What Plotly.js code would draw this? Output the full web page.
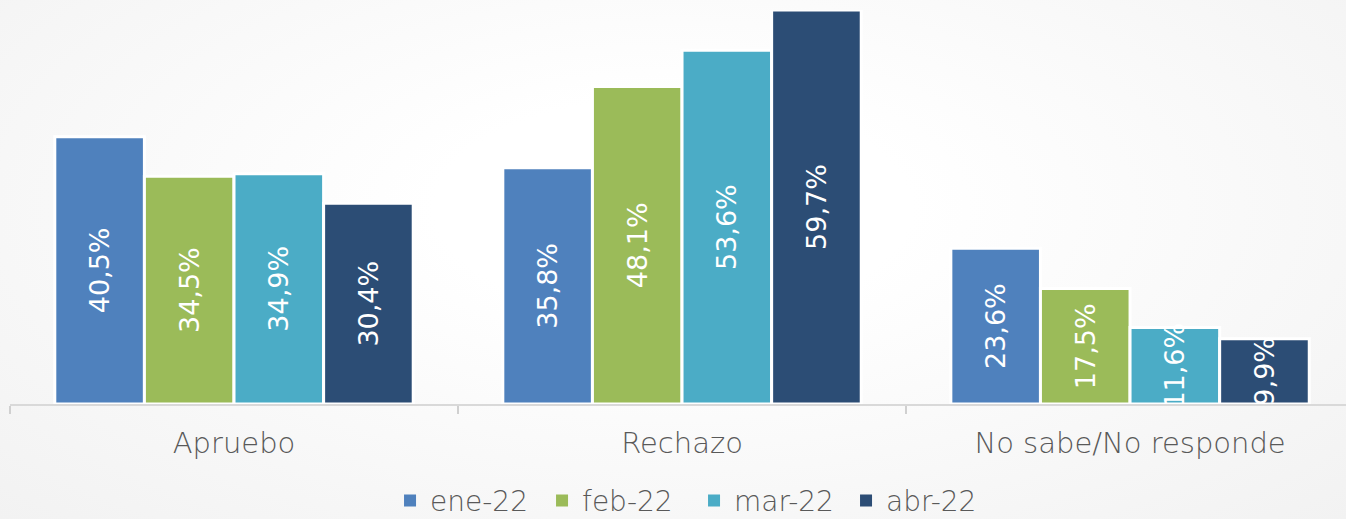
<!DOCTYPE html>
<html>
<head>
<meta charset="utf-8">
<script src="https://cdn.plot.ly/plotly-3.0.1.min.js"></script>
<style>
html,body{margin:0;padding:0;}
body{width:1346px;height:519px;background:radial-gradient(ellipse at 50% 40%, #ffffff 25%, #f2f2f2 100%);}
#chart{width:1346px;height:519px;}
.legend .legendpoints path{stroke-width:0 !important;}
</style>
</head>
<body>
<div id="chart"></div>
<script>
const categories = ["Apruebo", "Rechazo", "No sabe/No responde"];
const seriesNames = ["ene-22", "feb-22", "mar-22", "abr-22"];
const ene22 = [40.5, 35.8, 23.6];
const feb22 = [34.5, 48.1, 17.5];
const mar22 = [34.9, 53.6, 11.6];
const abr22 = [30.4, 59.7, 9.9];
const colors = ["#4F81BD", "#9BBB59", "#4BACC6", "#2C4D75"];

const values = [ene22, feb22, mar22, abr22];
const traces = values.map((v, i) => ({
  type: "bar",
  name: seriesNames[i],
  x: categories,
  y: v,
  marker: {color: colors[i], line: {color: "#ffffff", width: 3}},
  texttemplate: "%{y:.1f}%",
  textposition: "inside",
  insidetextanchor: "middle",
  constraintext: "none",
  textangle: -90,
  textfont: {family: "DejaVu Sans, sans-serif", size: 27, color: "#ffffff"},
  hoverinfo: "none"
}));

const layout = {
  width: 1346,
  height: 519,
  paper_bgcolor: "rgba(0,0,0,0)",
  plot_bgcolor: "rgba(0,0,0,0)",
  margin: {l: 10, r: 0, t: 10, b: 115, autoexpand: false},
  separators: ",.",
  barmode: "group",
  bargap: 0.2,
  bargroupgap: 0,
  showlegend: true,
  xaxis: {
    type: "category",
    range: [-0.5, 2.482],
    automargin: false,
    tickson: "boundaries",
    ticks: "outside",
    ticklen: 8,
    tickcolor: "#d0d0d0",
    tickwidth: 2,
    showline: true,
    linecolor: "#d9d9d9",
    linewidth: 2,
    showgrid: false,
    tickfont: {family: "DejaVu Sans, sans-serif", size: 29, weight: 200, color: "#595959"},
    ticklabelstandoff: 12
  },
  yaxis: {
    range: [0, 59.7],
    visible: false,
    showgrid: false,
    zeroline: false,
    automargin: false
  },
  legend: {
    orientation: "h",
    xref: "paper",
    x: 0.512,
    xanchor: "center",
    yref: "container",
    y: 0.035,
    yanchor: "middle",
    font: {family: "DejaVu Sans, sans-serif", size: 28, weight: 200, color: "#595959"},
    itemwidth: 30,
    entrywidth: 107,
    entrywidthmode: "pixels",
    traceorder: "normal"
  }
};

Plotly.newPlot("chart", traces, layout, {displayModeBar: false, staticPlot: true});
</script>
</body>
</html>
